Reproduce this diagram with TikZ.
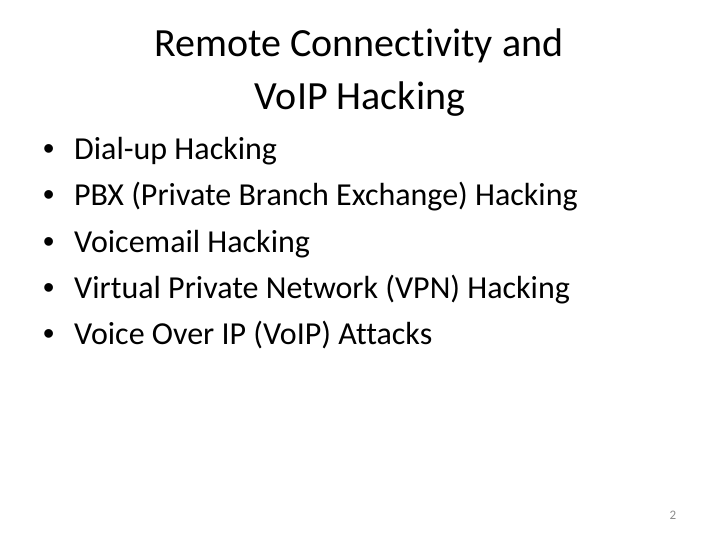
\documentclass[tikz,border=0pt]{standalone}
\usepackage{fontspec}
\setmainfont[RawFeature=-liga]{Carlito}
\newfontfamily\bulfont{Liberation Sans}
\begin{document}
\begin{tikzpicture}[x=1pt,y=-1pt,
  titletext/.style={font=\fontsize{40}{48}\selectfont, anchor=base, inner sep=0pt},
  itemtext/.style={font=\fontsize{32}{38}\selectfont, anchor=base west, inner sep=0pt},
  bul/.style={font=\bulfont\fontsize{32}{38}\selectfont, anchor=base west, inner sep=0pt}]
\useasboundingbox (0,0) rectangle (720,540);
\node[titletext] (t1) at (359,57) {Remote Connectivity and};
\node[titletext] (t2) at (360,110) {VoIP Hacking};
\foreach \i/\t [count=\k] in {0/Dial-up Hacking,1/PBX (Private Branch Exchange) Hacking,2/Voicemail Hacking,3/Virtual Private Network (VPN) Hacking,4/Voice Over IP (VoIP) Attacks}{
  \node[bul] (b\k) at (43,160+46*\i) {•};
  \node[itemtext] (i\k) at (74,160+46*\i) {\t};
}
\node[font=\fontsize{13}{15}\selectfont, text=gray!90, anchor=base, inner sep=0pt] (pg) at (673,519) {2};
\end{tikzpicture}
\end{document}
